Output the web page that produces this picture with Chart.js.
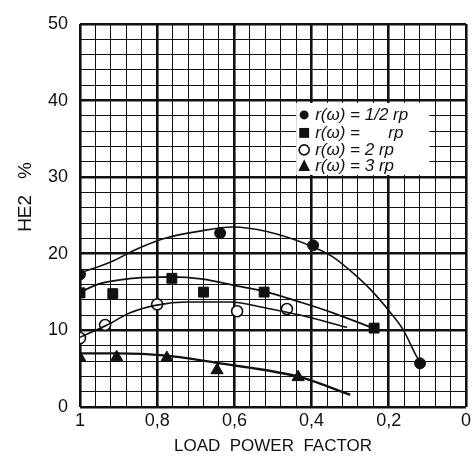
<!DOCTYPE html>
<html>
<head>
<meta charset="utf-8">
<script src="https://cdn.jsdelivr.net/npm/chart.js@4/dist/chart.umd.min.js"></script>
<style>
  html, body { margin: 0; padding: 0; background: #fff; }
  #wrap { width: 474px; height: 463px; }
</style>
</head>
<body>
<div id="wrap"><canvas id="c" width="474" height="463"></canvas></div>
<script>
// Load power factor (x) and second-harmonic HE2 % (y), measured points per series
const halfRpPF   = [1.0, 0.637, 0.396, 0.119];
const halfRpHE2  = [17.3, 22.7, 21.1, 5.7];
const rpPF       = [1.0, 0.915, 0.762, 0.68, 0.523, 0.238];
const rpHE2      = [14.9, 14.8, 16.8, 15.0, 15.0, 10.3];
const twoRpPF    = [1.0, 0.935, 0.80, 0.593, 0.464];
const twoRpHE2   = [9.0, 10.7, 13.4, 12.5, 12.8];
const threeRpPF  = [1.0, 0.905, 0.775, 0.645, 0.435];
const threeRpHE2 = [6.4, 6.5, 6.4, 4.8, 3.9];

// Hand-fitted trend curves through each series
const halfRpFitPF   = [1.0, 0.922, 0.845, 0.775, 0.697, 0.604, 0.516, 0.396, 0.345, 0.293, 0.241, 0.197, 0.163, 0.127, 0.117];
const halfRpFitHE2  = [17.5, 18.9, 20.8, 22.1, 22.9, 23.5, 22.9, 20.9, 19.6, 17.5, 15.0, 12.4, 10.1, 6.5, 5.7];
const rpFitPF       = [1.0, 0.948, 0.863, 0.767, 0.681, 0.604, 0.516, 0.430, 0.345, 0.236];
const rpFitHE2      = [15.0, 16.1, 16.8, 17.0, 16.7, 15.9, 15.0, 13.7, 12.3, 10.2];
const twoRpFitPF    = [1.0, 0.930, 0.870, 0.801, 0.723, 0.611, 0.516, 0.430, 0.308];
const twoRpFitHE2   = [9.1, 10.7, 12.3, 13.3, 13.7, 13.7, 12.9, 12.0, 10.4];
const threeRpFitPF  = [1.0, 0.904, 0.775, 0.637, 0.430, 0.300];
const threeRpFitHE2 = [7.0, 7.0, 6.7, 5.7, 3.9, 1.6];

const seriesNames = ['r(\u03c9) = 1/2 rp', 'r(\u03c9) =      rp', 'r(\u03c9) = 2 rp', 'r(\u03c9) = 3 rp'];

const xTickValues = [1, 0.8, 0.6, 0.4, 0.2, 0];
const xTickLabels = ['1', '0,8', '0,6', '0,4', '0,2', '0'];
const yTickValues = [0, 10, 20, 30, 40, 50];
const yTickLabels = ['0', '10', '20', '30', '40', '50'];

const pts = (xs, ys) => xs.map((x, i) => ({ x, y: ys[i] }));
const near = (a, b) => Math.abs(a - b) < 1e-6;

const HAND = "'Liberation Sans', 'DejaVu Sans', sans-serif";

function fit(xs, ys, width) {
  return {
    type: 'line', data: pts(xs, ys), showLine: true, fill: false,
    borderColor: '#111', borderWidth: width, cubicInterpolationMode: 'monotone',
    pointRadius: 0, pointHoverRadius: 0
  };
}
function marks(name, xs, ys, style, radius, filled) {
  return {
    type: 'scatter', label: name, data: pts(xs, ys), showLine: false,
    pointStyle: style, pointRadius: radius, pointHoverRadius: radius,
    backgroundColor: filled ? '#111' : '#fff', borderColor: '#111',
    pointBorderWidth: filled ? 1 : 1.6
  };
}

// Legend panel drawn inside the plot on a white patch
const innerLegend = {
  id: 'innerLegend',
  afterDatasetsDraw(chart) {
    const { ctx, scales: { x, y } } = chart;
    const left = x.getPixelForValue(0.44), right = x.getPixelForValue(0.095);
    const top = y.getPixelForValue(39.7), bottom = y.getPixelForValue(30.3);
    ctx.save();
    ctx.fillStyle = '#fff';
    ctx.fillRect(left, top, right - left, bottom - top);
    const rows = [12, 30, 47, 63];
    const styles = [['circle', 4.5, true], ['rect', 7, true], ['circle', 5, false], ['triangle', 7.5, true]];
    ctx.font = "italic 17px " + HAND;
    ctx.textBaseline = 'middle';
    rows.forEach((dy, i) => {
      const cy = top + dy, cx = left + 8;
      const [st, r, filled] = styles[i];
      ctx.fillStyle = '#111'; ctx.strokeStyle = '#111'; ctx.lineWidth = 1.6;
      ctx.beginPath();
      if (st === 'circle') {
        ctx.arc(cx, cy, r, 0, Math.PI * 2);
      } else if (st === 'rect') {
        const s = r * Math.SQRT1_2; ctx.rect(cx - s, cy - s, 2 * s, 2 * s);
      } else {
        const h = r * 1.5, w = r * 1.3;
        ctx.moveTo(cx, cy - h * 0.6); ctx.lineTo(cx + w * 0.6, cy + h * 0.45); ctx.lineTo(cx - w * 0.6, cy + h * 0.45); ctx.closePath();
      }
      if (filled) ctx.fill(); else ctx.stroke();
      ctx.fillStyle = '#111';
      ctx.fillText(seriesNames[i], left + 19, cy);
    });
    ctx.restore();
  }
};

new Chart(document.getElementById('c'), {
  type: 'scatter',
  data: {
    datasets: [
      fit(halfRpFitPF, halfRpFitHE2, 1.6),
      fit(rpFitPF, rpFitHE2, 1.8),
      fit(twoRpFitPF, twoRpFitHE2, 1.6),
      fit(threeRpFitPF, threeRpFitHE2, 2.4),
      marks(seriesNames[0], halfRpPF, halfRpHE2, 'circle', 5.5, true),
      marks(seriesNames[1], rpPF, rpHE2, 'rect', 7, true),
      marks(seriesNames[2], twoRpPF, twoRpHE2, 'circle', 5.5, false),
      marks(seriesNames[3], threeRpPF, threeRpHE2, 'triangle', 7, true)
    ]
  },
  options: {
    responsive: false,
    animation: false,
    events: [],
    layout: { padding: { top: 24, right: 8, left: 0, bottom: 0 } },
    plugins: { legend: { display: false }, tooltip: { enabled: false } },
    scales: {
      x: {
        type: 'linear', reverse: true, min: 0, max: 1,
        afterFit(s) { s.height = 56; },
        border: { display: false },
        grid: {
          drawTicks: false,
          color: '#111',
          lineWidth: c => (xTickValues.some(v => near(v, c.tick.value)) ? 2.6 : 1)
        },
        ticks: {
          stepSize: 0.04, autoSkip: false, maxRotation: 0, minRotation: 0, padding: 3,
          color: '#111', font: { family: HAND, size: 18 },
          callback: v => { const i = xTickValues.findIndex(t => near(t, v)); return i >= 0 ? xTickLabels[i] : ''; }
        },
        title: {
          display: true, text: 'LOAD  POWER  FACTOR', color: '#111',
          font: { family: HAND, size: 17 }, padding: { top: 0, bottom: 6 }
        }
      },
      y: {
        type: 'linear', min: 0, max: 50,
        afterFit(s) { s.width = 80; },
        border: { display: false },
        grid: {
          drawTicks: false,
          color: '#111',
          lineWidth: c => (yTickValues.some(v => near(v, c.tick.value)) ? 2.6 : 1)
        },
        ticks: {
          stepSize: 2, autoSkip: false, padding: 12,
          color: '#111', font: { family: HAND, size: 18 },
          callback: v => { const i = yTickValues.findIndex(t => near(t, v)); return i >= 0 ? yTickLabels[i] : ''; }
        },
        title: {
          display: true, text: '       HE2   %', color: '#111',
          font: { family: HAND, size: 19 }, padding: { top: 14, bottom: 0 }
        }
      }
    }
  },
  plugins: [innerLegend]
});
</script>
</body>
</html>
